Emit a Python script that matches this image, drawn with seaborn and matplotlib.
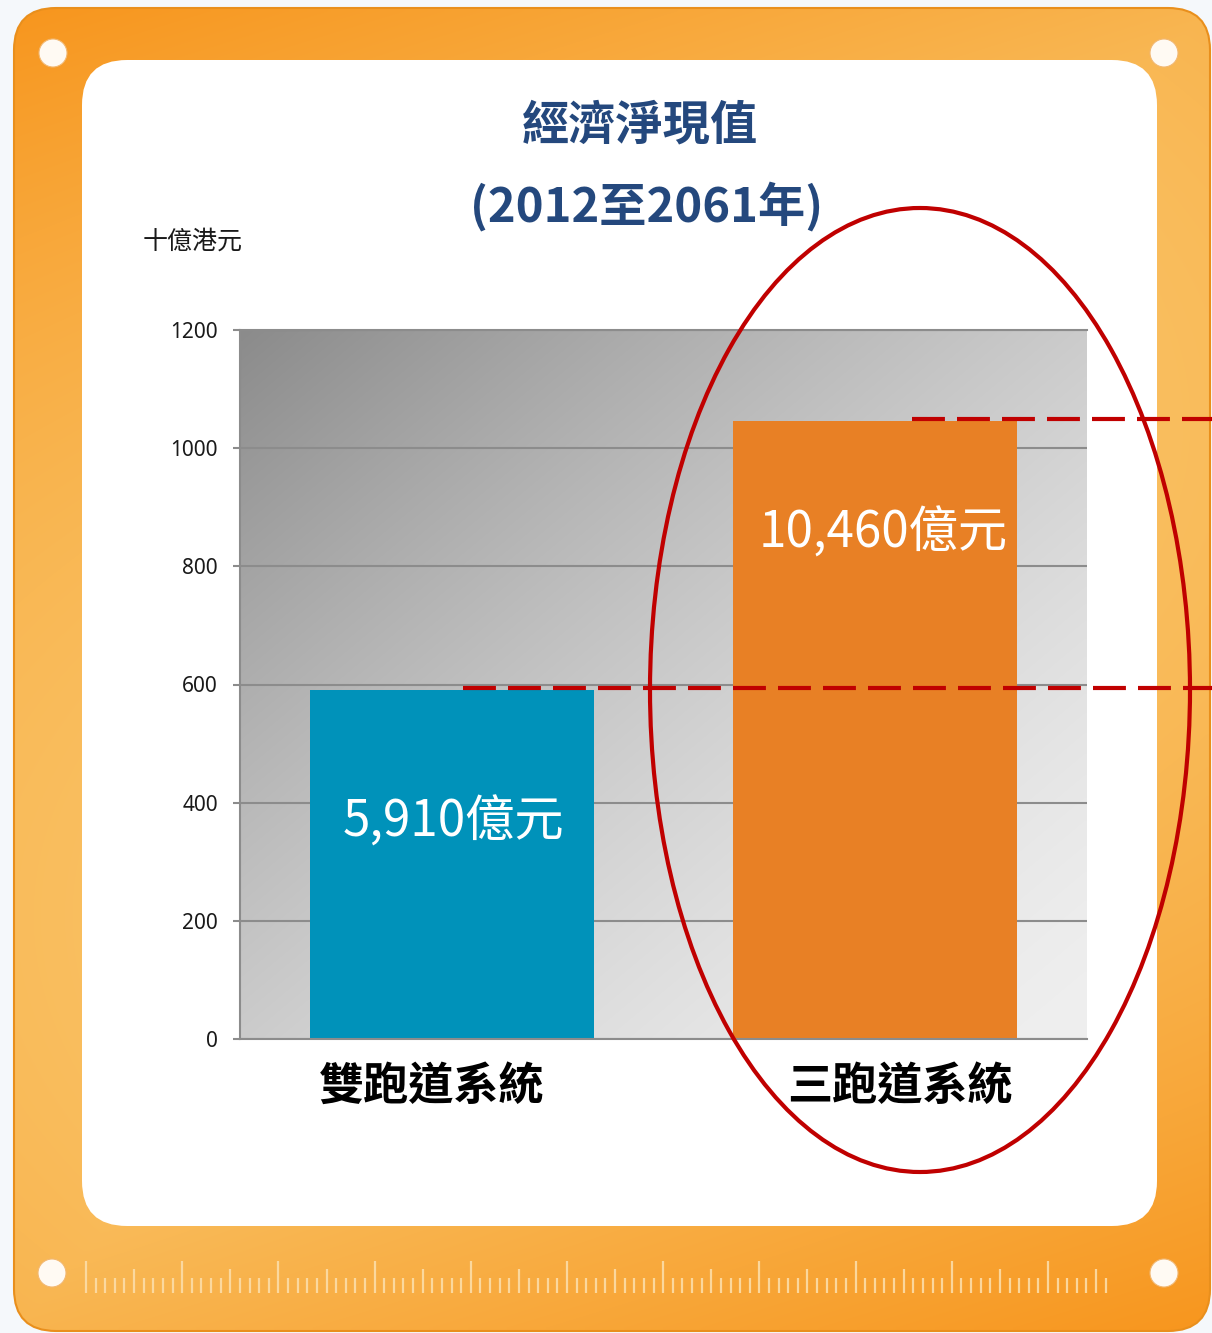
import numpy as np
import pandas as pd
import matplotlib
matplotlib.use("Agg")
import matplotlib.pyplot as plt
import matplotlib.transforms as mtransforms
from matplotlib.patches import FancyBboxPatch, Circle, Ellipse
import seaborn as sns

# ---------------- data ----------------
categories = ["雙跑道系統", "三跑道系統"]
values = [591, 1046]                     # 十億港元
bar_labels = ["5,910億元", "10,460億元"]
bar_colors = ["#0092BA", "#E88025"]
yticks = [0, 200, 400, 600, 800, 1000, 1200]
title_line1 = "經濟淨現值"
title_line2 = "(2012至2061年)"
unit_label = "十億港元"

# ---------------- style ----------------
sns.set_style("white")
plt.rcParams["font.family"] = ["Noto Sans CJK TC", "DejaVu Sans"]

W, H = 1212, 1333
fig = plt.figure(figsize=(W / 100, H / 100), dpi=100)

# ---------- background / frame (pixel coordinates) ----------
bg = fig.add_axes([0, 0, 1, 1], zorder=0)
bg.set_xlim(0, W)
bg.set_ylim(H, 0)
bg.axis("off")
bg.add_patch(plt.Rectangle((0, 0), W, H, color="#F5F8FB", zorder=0))

# orange frame gradient
ny, nx = 200, 200
yy, xx = np.mgrid[0:1:ny * 1j, 0:1:nx * 1j]
d = xx + yy - 1
t = 1 - 0.6 * np.abs(d) - 0.4 * (2 * yy - 1) ** 2
t = np.clip(t, 0, 1)[..., None]
dark = np.array([247, 150, 30]) / 255
light = np.array([250, 201, 112]) / 255
img = dark + (light - dark) * t
frame = FancyBboxPatch((14, 8), 1196, 1323, boxstyle="round,pad=0,rounding_size=42",
                       facecolor="none", edgecolor="#E98F1C", lw=1.5, zorder=2)
bg.add_patch(frame)
im = bg.imshow(img, extent=[14, 1210, 1331, 8], aspect="auto", zorder=1,
               interpolation="bilinear")
im.set_clip_path(frame)

# white inner panel
bg.add_patch(FancyBboxPatch((82, 60), 1075, 1166, boxstyle="round,pad=0,rounding_size=45",
                            facecolor="white", edgecolor="none", zorder=3))
# holes
for cx, cy in [(53, 53), (1164, 53), (52, 1273), (1164, 1273)]:
    bg.add_patch(Circle((cx, cy), 14, facecolor="#FFFAF3", edgecolor="#F2B872", lw=0.8, zorder=3))
# ruler
step = (1048 - 86) / 100
for i in range(107):
    x = 86 + i * step
    if i % 10 == 0:
        top = 1261
    elif i % 5 == 0:
        top = 1269
    else:
        top = 1278
    bg.plot([x, x], [top, 1293], color="#FCDDA8", lw=1.6, alpha=0.9, zorder=3,
            solid_capstyle="butt")

# titles & unit
title_color = "#24487D"
bg.text(640, 125, title_line1, ha="center", va="center", fontsize=34,
        fontweight="bold", color=title_color, zorder=4)
bg.text(647, 207, title_line2, ha="center", va="center", fontsize=34,
        fontweight="bold", color=title_color, zorder=4)
bg.text(143, 242, unit_label, ha="left", va="center", fontsize=18,
        color="#1a1a1a", zorder=4)

# ---------- main chart ----------
ax = fig.add_axes([240 / W, 1 - 1039 / H, (1087 - 240) / W, (1039 - 330) / H], zorder=2)
df = pd.DataFrame({"system": categories, "value": values})
sns.barplot(data=df, x="system", y="value", hue="system", palette=bar_colors,
            legend=False, width=0.67, saturation=1, linewidth=0, ax=ax, zorder=2)

# gradient plot area
gy, gx = np.mgrid[0:1:200j, 0:1:200j]
gt = (gx + gy) / 2   # gy=0 at top row
gt = 1 - (1 - gt) ** 1.5
g = (139 + (239 - 139) * gt) / 255
gimg = np.dstack([g, g, g])
ax.imshow(gimg, extent=[0, 1, 0, 1], transform=ax.transAxes, aspect="auto",
          zorder=0, interpolation="bilinear")
ax.set_xlim(-0.5, 1.5)
ax.set_ylim(0, 1200)
ax.set_yticks(yticks)
ax.set_axisbelow(True)
ax.yaxis.grid(True, color="#8C8C8C", lw=1.5)
ax.xaxis.grid(False)
ax.spines["right"].set_visible(False)
for s in ["left", "bottom", "top"]:
    ax.spines[s].set_color("#8C8C8C")
    ax.spines[s].set_linewidth(1.5)
ax.set_xlabel("")
ax.set_ylabel("")
ax.tick_params(axis="y", length=5, width=1.5, color="#8C8C8C", pad=11,
               labelsize=15, labelcolor="#1a1a1a", left=True)
ax.tick_params(axis="x", length=0, pad=18)
for lab in ax.get_yticklabels():
    lab.set_fontfamily(["Noto Sans", "DejaVu Sans"])
label_shift_px = [-20, 25]
for lab, dx in zip(ax.get_xticklabels(), label_shift_px):
    lab.set_fontsize(32.5)
    lab.set_fontweight("bold")
    lab.set_color("black")
    lab.set_transform(lab.get_transform() +
                      mtransforms.ScaledTranslation(dx / 100, 0, fig.dpi_scale_trans))

# bar value labels
label_y = [366, 856]
label_dx = [0.005, 0.018]
for i, (txt, ly, dx) in enumerate(zip(bar_labels, label_y, label_dx)):
    ax.text(i + dx, ly, txt, ha="center", va="center", fontsize=35.5, color="white", zorder=4)

# dashed reference lines (extend to right edge of picture)
for v, xmin in zip(values, [0.263, 0.793]):
    ax.axhline(v + 3, xmin=xmin, xmax=1.16, color="#C00000", lw=3,
               dashes=(7.9, 2.9), clip_on=False, zorder=5)

# ---------- overlay ellipse ----------
ov = fig.add_axes([0, 0, 1, 1], zorder=5)
ov.set_xlim(0, W)
ov.set_ylim(H, 0)
ov.axis("off")
ov.patch.set_alpha(0)
ov.add_patch(Ellipse((920, 690), 540, 964, facecolor="none", edgecolor="#C00000", lw=3))

fig.savefig("out.png", dpi=100)
